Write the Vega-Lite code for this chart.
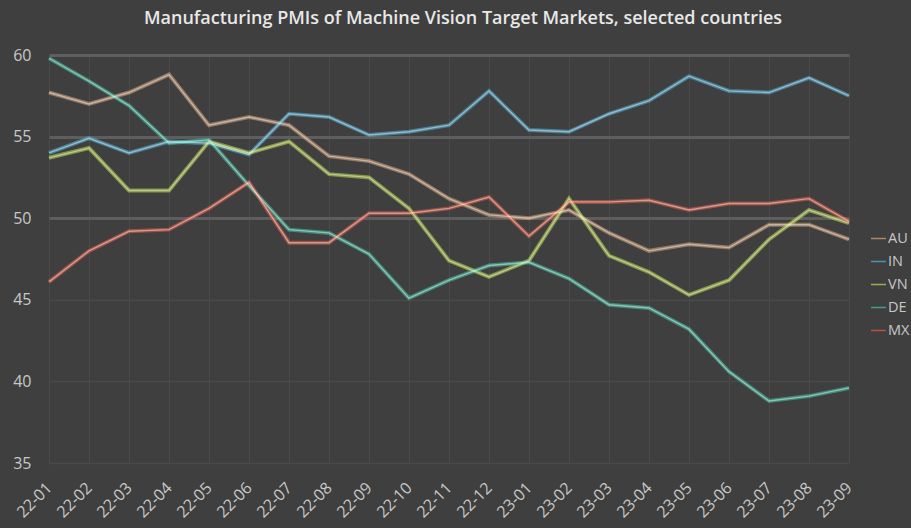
{
  "$schema": "https://vega.github.io/schema/vega-lite/v6.json",
  "width": 800,
  "height": 408,
  "autosize": {"type": "none"},
  "padding": {"left": 49, "top": 55, "right": 62, "bottom": 65},
  "background": "#3f3f3f",
  "title": {
    "text": "Manufacturing PMIs of Machine Vision Target Markets, selected  countries",
    "font": "Open Sans",
    "fontSize": 18,
    "fontWeight": 600,
    "color": "#e8e8e8",
    "anchor": "middle",
    "offset": 19,
    "dx": 14
  },
  "config": {
    "view": {"stroke": null},
    "font": "Open Sans"
  },
  "data": {
    "values": [
      {"month": "22-01", "country": "AU", "pmi": 57.7}, {"month": "22-02", "country": "AU", "pmi": 57.0}, {"month": "22-03", "country": "AU", "pmi": 57.7}, {"month": "22-04", "country": "AU", "pmi": 58.8}, {"month": "22-05", "country": "AU", "pmi": 55.7}, {"month": "22-06", "country": "AU", "pmi": 56.2}, {"month": "22-07", "country": "AU", "pmi": 55.7}, {"month": "22-08", "country": "AU", "pmi": 53.8}, {"month": "22-09", "country": "AU", "pmi": 53.5}, {"month": "22-10", "country": "AU", "pmi": 52.7}, {"month": "22-11", "country": "AU", "pmi": 51.2}, {"month": "22-12", "country": "AU", "pmi": 50.2}, {"month": "23-01", "country": "AU", "pmi": 50.0}, {"month": "23-02", "country": "AU", "pmi": 50.5}, {"month": "23-03", "country": "AU", "pmi": 49.1}, {"month": "23-04", "country": "AU", "pmi": 48.0}, {"month": "23-05", "country": "AU", "pmi": 48.4}, {"month": "23-06", "country": "AU", "pmi": 48.2}, {"month": "23-07", "country": "AU", "pmi": 49.6}, {"month": "23-08", "country": "AU", "pmi": 49.6}, {"month": "23-09", "country": "AU", "pmi": 48.7},
      {"month": "22-01", "country": "IN", "pmi": 54.0}, {"month": "22-02", "country": "IN", "pmi": 54.9}, {"month": "22-03", "country": "IN", "pmi": 54.0}, {"month": "22-04", "country": "IN", "pmi": 54.7}, {"month": "22-05", "country": "IN", "pmi": 54.6}, {"month": "22-06", "country": "IN", "pmi": 53.9}, {"month": "22-07", "country": "IN", "pmi": 56.4}, {"month": "22-08", "country": "IN", "pmi": 56.2}, {"month": "22-09", "country": "IN", "pmi": 55.1}, {"month": "22-10", "country": "IN", "pmi": 55.3}, {"month": "22-11", "country": "IN", "pmi": 55.7}, {"month": "22-12", "country": "IN", "pmi": 57.8}, {"month": "23-01", "country": "IN", "pmi": 55.4}, {"month": "23-02", "country": "IN", "pmi": 55.3}, {"month": "23-03", "country": "IN", "pmi": 56.4}, {"month": "23-04", "country": "IN", "pmi": 57.2}, {"month": "23-05", "country": "IN", "pmi": 58.7}, {"month": "23-06", "country": "IN", "pmi": 57.8}, {"month": "23-07", "country": "IN", "pmi": 57.7}, {"month": "23-08", "country": "IN", "pmi": 58.6}, {"month": "23-09", "country": "IN", "pmi": 57.5},
      {"month": "22-01", "country": "VN", "pmi": 53.7}, {"month": "22-02", "country": "VN", "pmi": 54.3}, {"month": "22-03", "country": "VN", "pmi": 51.7}, {"month": "22-04", "country": "VN", "pmi": 51.7}, {"month": "22-05", "country": "VN", "pmi": 54.7}, {"month": "22-06", "country": "VN", "pmi": 54.0}, {"month": "22-07", "country": "VN", "pmi": 54.7}, {"month": "22-08", "country": "VN", "pmi": 52.7}, {"month": "22-09", "country": "VN", "pmi": 52.5}, {"month": "22-10", "country": "VN", "pmi": 50.6}, {"month": "22-11", "country": "VN", "pmi": 47.4}, {"month": "22-12", "country": "VN", "pmi": 46.4}, {"month": "23-01", "country": "VN", "pmi": 47.4}, {"month": "23-02", "country": "VN", "pmi": 51.2}, {"month": "23-03", "country": "VN", "pmi": 47.7}, {"month": "23-04", "country": "VN", "pmi": 46.7}, {"month": "23-05", "country": "VN", "pmi": 45.3}, {"month": "23-06", "country": "VN", "pmi": 46.2}, {"month": "23-07", "country": "VN", "pmi": 48.7}, {"month": "23-08", "country": "VN", "pmi": 50.5}, {"month": "23-09", "country": "VN", "pmi": 49.7},
      {"month": "22-01", "country": "DE", "pmi": 59.8}, {"month": "22-02", "country": "DE", "pmi": 58.4}, {"month": "22-03", "country": "DE", "pmi": 56.9}, {"month": "22-04", "country": "DE", "pmi": 54.6}, {"month": "22-05", "country": "DE", "pmi": 54.8}, {"month": "22-06", "country": "DE", "pmi": 52.0}, {"month": "22-07", "country": "DE", "pmi": 49.3}, {"month": "22-08", "country": "DE", "pmi": 49.1}, {"month": "22-09", "country": "DE", "pmi": 47.8}, {"month": "22-10", "country": "DE", "pmi": 45.1}, {"month": "22-11", "country": "DE", "pmi": 46.2}, {"month": "22-12", "country": "DE", "pmi": 47.1}, {"month": "23-01", "country": "DE", "pmi": 47.3}, {"month": "23-02", "country": "DE", "pmi": 46.3}, {"month": "23-03", "country": "DE", "pmi": 44.7}, {"month": "23-04", "country": "DE", "pmi": 44.5}, {"month": "23-05", "country": "DE", "pmi": 43.2}, {"month": "23-06", "country": "DE", "pmi": 40.6}, {"month": "23-07", "country": "DE", "pmi": 38.8}, {"month": "23-08", "country": "DE", "pmi": 39.1}, {"month": "23-09", "country": "DE", "pmi": 39.6},
      {"month": "22-01", "country": "MX", "pmi": 46.1}, {"month": "22-02", "country": "MX", "pmi": 48.0}, {"month": "22-03", "country": "MX", "pmi": 49.2}, {"month": "22-04", "country": "MX", "pmi": 49.3}, {"month": "22-05", "country": "MX", "pmi": 50.6}, {"month": "22-06", "country": "MX", "pmi": 52.2}, {"month": "22-07", "country": "MX", "pmi": 48.5}, {"month": "22-08", "country": "MX", "pmi": 48.5}, {"month": "22-09", "country": "MX", "pmi": 50.3}, {"month": "22-10", "country": "MX", "pmi": 50.3}, {"month": "22-11", "country": "MX", "pmi": 50.6}, {"month": "22-12", "country": "MX", "pmi": 51.3}, {"month": "23-01", "country": "MX", "pmi": 48.9}, {"month": "23-02", "country": "MX", "pmi": 51.0}, {"month": "23-03", "country": "MX", "pmi": 51.0}, {"month": "23-04", "country": "MX", "pmi": 51.1}, {"month": "23-05", "country": "MX", "pmi": 50.5}, {"month": "23-06", "country": "MX", "pmi": 50.9}, {"month": "23-07", "country": "MX", "pmi": 50.9}, {"month": "23-08", "country": "MX", "pmi": 51.2}, {"month": "23-09", "country": "MX", "pmi": 49.8}
    ]
  },
  "encoding": {
    "x": {
      "field": "month",
      "type": "ordinal",
      "scale": {"type": "point", "padding": 0},
      "axis": {
        "title": null,
        "domain": false,
        "ticks": false,
        "labelAngle": -45,
        "labelAlign": "right",
        "labelBaseline": "middle",
        "labelFont": "Open Sans",
        "labelFontSize": 16,
        "labelColor": "#c8c8c8",
        "labelPadding": 22,
        "grid": true,
        "gridColor": "#4a4a4a",
        "gridWidth": 1
      }
    },
    "y": {
      "field": "pmi",
      "type": "quantitative",
      "scale": {"domain": [35, 60], "zero": false, "nice": false},
      "axis": {
        "title": null,
        "domain": false,
        "ticks": false,
        "values": [35, 40, 45, 50, 55, 60],
        "labelFont": "Open Sans",
        "labelFontSize": 16,
        "labelColor": "#c8c8c8",
        "labelPadding": 18,
        "grid": true,
        "gridColor": {"condition": {"test": "datum.value >= 50", "value": "#5e5e5e"}, "value": "#4a4a4a"},
        "gridWidth": {"condition": {"test": "datum.value >= 50", "value": 3}, "value": 1.5}
      }
    }
  },
  "layer": [
    {
      "mark": {"type": "line", "strokeWidth": 4, "opacity": 0.55},
      "encoding": {
        "color": {
          "field": "country",
          "type": "nominal",
          "sort": ["AU", "IN", "VN", "DE", "MX"],
          "scale": {"domain": ["AU", "IN", "VN", "DE", "MX"], "range": ["#dba67a", "#4fb4e0", "#bfe048", "#3fc9a8", "#ee5c45"]},
          "legend": {
            "title": null,
            "orient": "none",
            "legendX": 821,
            "legendY": 175,
            "symbolType": "stroke",
            "symbolSize": 225,
            "symbolStrokeWidth": 1.5,
            "symbolOpacity": 0.7,
            "labelFont": "Open Sans",
            "labelFontSize": 14.5,
            "labelColor": "#c8c8c8",
            "labelOffset": 1,
            "rowPadding": 8,
            "labelLimit": 100
          }
        }
      }
    },
    {
      "mark": {"type": "line", "strokeWidth": 1.4, "color": "#ffffff", "opacity": 0.45},
      "encoding": {"detail": {"field": "country", "type": "nominal"}}
    }
  ]
}
